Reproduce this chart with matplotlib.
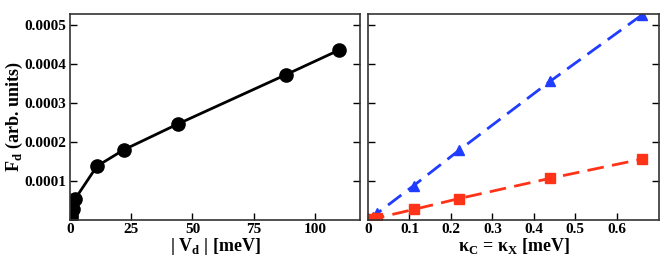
import matplotlib
matplotlib.use("Agg")
import matplotlib.pyplot as plt
from matplotlib.ticker import FixedLocator

plt.rcParams['font.family'] = ['Liberation Serif', 'DejaVu Serif']
plt.rcParams['font.weight'] = 'bold'
plt.rcParams['mathtext.fontset'] = 'custom'
plt.rcParams['mathtext.rm'] = 'Liberation Serif:bold'
plt.rcParams['mathtext.bf'] = 'Liberation Serif:bold'

vd = [0.0, 0.22, 0.55, 1.1, 2.2, 11.0, 22.0, 44.0, 88.0, 110.0]
fd_vd = [0.0, 0.000005, 0.000012, 0.000028, 0.000055, 0.000138, 0.00018, 0.000246, 0.000372, 0.000436]

kappa = [0.0, 0.011, 0.022, 0.11, 0.22, 0.44, 0.66]
fd_blue = [0.0, 0.000008, 0.000017, 0.000088, 0.000179, 0.000356, 0.000525]
fd_red = [0.0, 0.0000027, 0.0000052, 0.000027, 0.000055, 0.000107, 0.000156]

yticks = [0.0001, 0.0002, 0.0003, 0.0004, 0.0005]
ytick_labels = ['0.0001', '0.0002', '0.0003', '0.0004', '0.0005']
xticks_left = [0, 25, 50, 75, 100]
xticks_right = [0, 0.1, 0.2, 0.3, 0.4, 0.5, 0.6]

fig = plt.figure(figsize=(6.64, 2.59), dpi=100)
W, H = 664, 259
ax1 = fig.add_axes([70 / W, 1 - 220 / H, 290 / W, 206 / H])
ax2 = fig.add_axes([368 / W, 1 - 220 / H, 291 / W, 206 / H])

ax1.plot(vd, fd_vd, '-o', color='black', lw=2, ms=9.5)
ax2.plot(kappa, fd_blue, '--^', color='#1f3cff', lw=2, ms=7.5, dashes=(6, 3))
ax2.plot(kappa, fd_red, '--s', color='#ff3318', lw=2, ms=6.5, dashes=(6, 3))

for ax in (ax1, ax2):
    ax.set_ylim(0, 0.000528)
    ax.yaxis.set_major_locator(FixedLocator(yticks))
    ax.tick_params(direction='in', length=5, width=1, right=True, labelsize=11, pad=2.5)
    for s in ax.spines.values():
        s.set_linewidth(1.2)
        s.set_color('#333333')

ax1.set_yticks(yticks)
ax1.set_yticklabels(ytick_labels, fontweight='bold')
ax2.set_yticklabels([])
ax1.set_xlim(0, 118.4)
ax1.set_xticks(xticks_left)
ax1.set_xticklabels([str(t) for t in xticks_left], fontweight='bold')
ax2.set_xlim(0, 0.702)
ax2.set_xticks(xticks_right)
ax2.set_xticklabels(['0', '0.1', '0.2', '0.3', '0.4', '0.5', '0.6'], fontweight='bold')

ax1.set_xlabel(r'| V$_{\mathbf{d}}$ | [meV]', fontsize=13, fontweight='bold')
ax1.xaxis.set_label_coords(0.5, -0.08)
ax1.set_ylabel(r'F$_{\mathbf{d}}$ (arb. units)', fontsize=13, fontweight='bold')
ax1.yaxis.set_label_coords(-0.155, 0.5)
ax2.set_xlabel('κ$_{\\mathbf{C}}$ = κ$_{\\mathbf{X}}$ [meV]', fontsize=13, fontweight='bold')
ax2.xaxis.set_label_coords(0.5, -0.08)

fig.savefig('out.png', dpi=100)
